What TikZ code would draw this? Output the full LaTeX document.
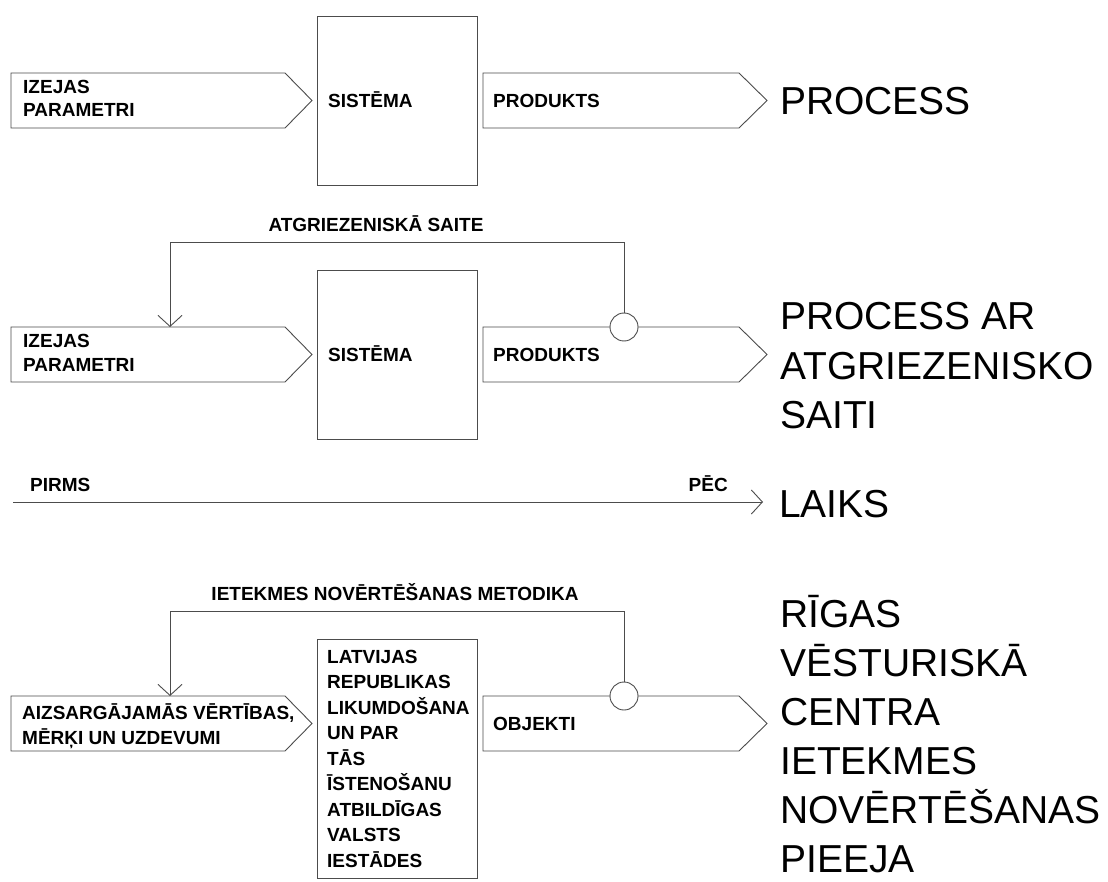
\documentclass[tikz,border=0pt]{standalone}
\usepackage{fontspec}
\setmainfont{Liberation Sans}
\usetikzlibrary{arrows.meta}
\definecolor{lncol}{gray}{0.3}
\begin{document}
\begin{tikzpicture}[x=1pt,y=-1pt,
  ln/.style={draw=lncol, line width=0.9pt},
  sm/.style={font=\bfseries\fontsize{19}{24}\selectfont, inner sep=0pt, anchor=base west},
  smc/.style={font=\bfseries\fontsize{19}{24}\selectfont, inner sep=0pt, anchor=base},
  big/.style={font=\fontsize{39}{49}\selectfont, inner sep=0pt, anchor=base west},
  boxnode/.style={ln, anchor=north west, inner sep=0pt, minimum width=160pt},
  fbarrow/.style={ln, -{Straight Barb[length=11pt,width=24pt]}},
  joint/.style={circle, ln, fill=white, minimum size=28pt, inner sep=0pt}]
\fill[white] (0,0) rectangle (1108,882);
\useasboundingbox (0,0) rectangle (1108,882);

% ---------- Row 1 ----------
\draw[ln] (11,73) -- (285,73) -- (312,100.5) -- (285,128) -- (11,128) -- cycle;
\node[boxnode, minimum height=169pt] (sys1) at (317,16) {};
\draw[ln] (483,73) -- (739,73) -- (767,100.5) -- (739,128) -- (483,128) -- cycle;
\node[sm] (in1a) at (23,94) {IZEJAS};
\node[sm] (in1b) at (23,117) {PARAMETRI};
\node[sm] (sys1t) at (328,107.3) {SISTĒMA};
\node[sm] (out1) at (493,107.3) {PRODUKTS};
\node[big] (proc1) at (780,115) {PROCESS};

% ---------- Row 2 ----------
\draw[ln] (11,327) -- (285,327) -- (312,354.5) -- (285,382) -- (11,382) -- cycle;
\node[boxnode, minimum height=169pt] (sys2) at (317,270) {};
\draw[ln] (483,327) -- (739,327) -- (767,354.5) -- (739,382) -- (483,382) -- cycle;
\node[joint] (c2) at (624,327) {};
\coordinate (fb2end) at (170,327);
\coordinate (fb2top) at (170,242);
\draw[fbarrow] (c2.north) |- (fb2top) -- (fb2end);
\node[smc] (fb2lab) at (376,232) {ATGRIEZENISKĀ SAITE};
\node[sm] (in2a) at (23,348) {IZEJAS};
\node[sm] (in2b) at (23,371) {PARAMETRI};
\node[sm] (sys2t) at (328,361.3) {SISTĒMA};
\node[sm] (out2) at (493,361.3) {PRODUKTS};
\node[big] (proc2a) at (780,330) {PROCESS AR};
\node[big] (proc2b) at (780,379) {ATGRIEZENISKO};
\node[big] (proc2c) at (780,428) {SAITI};

% ---------- Timeline ----------
\coordinate (t0) at (13,502);
\coordinate (t1) at (763,502);
\draw[fbarrow] (t0) -- (t1);
\node[sm] (pirms) at (30,491) {PIRMS};
\node[smc, anchor=base east] (pec) at (728,491) {PĒC};
\node[big] (laiks) at (779,517) {LAIKS};

% ---------- Row 4 ----------
\draw[ln] (11,696) -- (285,696) -- (312,723.5) -- (285,751) -- (11,751) -- cycle;
\node[boxnode, minimum height=239pt] (sys4) at (317,639) {};
\draw[ln] (483,696) -- (739,696) -- (767,723.5) -- (739,751) -- (483,751) -- cycle;
\node[joint] (c4) at (624,696) {};
\coordinate (fb4end) at (170,696);
\coordinate (fb4top) at (170,611);
\draw[fbarrow] (c4.north) |- (fb4top) -- (fb4end);
\node[smc] (fb4lab) at (395,600) {IETEKMES NOVĒRTĒŠANAS METODIKA};
\node[sm] (in4a) at (22,719) {AIZSARGĀJAMĀS VĒRTĪBAS,};
\node[sm] (in4b) at (22,744) {MĒRĶI UN UZDEVUMI};
\node[sm] (s4a) at (327,663) {LATVIJAS};
\node[sm] (s4b) at (327,688.5) {REPUBLIKAS};
\node[sm] (s4c) at (327,714) {LIKUMDOŠANA};
\node[sm] (s4d) at (327,739.5) {UN PAR};
\node[sm] (s4e) at (327,765) {TĀS};
\node[sm] (s4f) at (327,790.5) {ĪSTENOŠANU};
\node[sm] (s4g) at (327,816) {ATBILDĪGAS};
\node[sm] (s4h) at (327,841.5) {VALSTS};
\node[sm] (s4i) at (327,867) {IESTĀDES};
\node[sm] (out4) at (493,730.3) {OBJEKTI};
\node[big] (r1) at (780,627) {RĪGAS};
\node[big] (r2) at (780,676) {VĒSTURISKĀ};
\node[big] (r3) at (780,725) {CENTRA};
\node[big] (r4) at (780,774) {IETEKMES};
\node[big] (r5) at (780,823) {NOVĒRTĒŠANAS};
\node[big] (r6) at (780,872) {PIEEJA};
\end{tikzpicture}
\end{document}
